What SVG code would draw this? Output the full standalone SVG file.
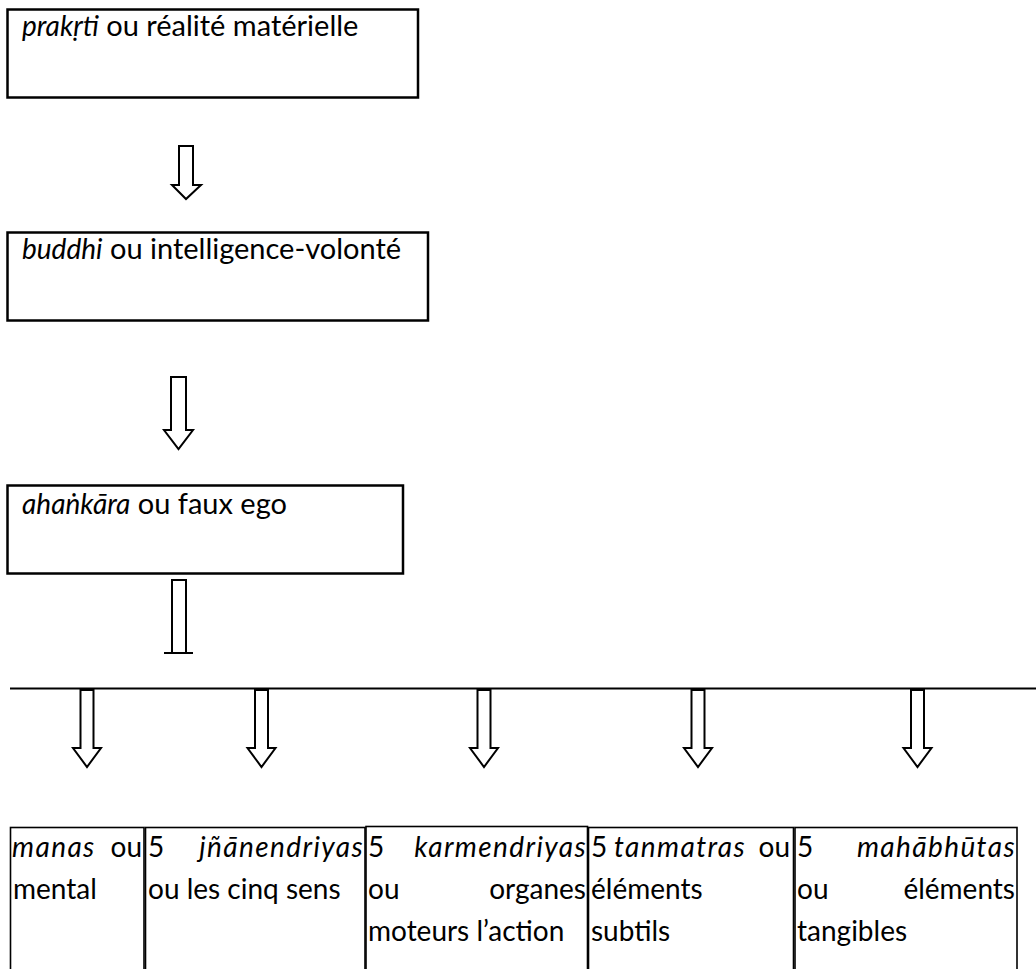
<svg xmlns="http://www.w3.org/2000/svg" width="1036" height="969" viewBox="0 0 1036 969">
<style>
  text { font-family: "Lato", "Liberation Sans", sans-serif; font-size: 28px; fill: #000; }
  .top { font-size: 29px; }
  .top .it { font-size: 28px; letter-spacing: 0; }
  .it { font-style: italic; letter-spacing: 1.4px; }
  .box { fill: #fff; stroke: #000; stroke-width: 2.5; }
  .cell { fill: #fff; stroke: #000; stroke-width: 1.6; }
  .arr { fill: #fff; stroke: #000; stroke-width: 2; stroke-linejoin: miter; }
  .ln { fill: none; stroke: #000; stroke-width: 2; }
</style>
<rect x="0" y="0" width="1036" height="969" fill="#fff"/>

<g id="node-prakrti">
  <rect class="box" x="7.5" y="9.5" width="410.5" height="88"/>
  <text class="top" x="22" y="36"><tspan class="it">prakṛti</tspan> ou réalité matérielle</text>
</g>

<g id="node-buddhi">
  <rect class="box" x="7.5" y="232.5" width="420.5" height="88"/>
  <text class="top" x="22" y="259"><tspan class="it">buddhi</tspan> ou intelligence-volonté</text>
</g>

<g id="node-ahankara">
  <rect class="box" x="7.5" y="485.5" width="395.5" height="88"/>
  <text class="top" x="22" y="514"><tspan class="it">ahaṅkāra</tspan> ou faux ego</text>
</g>

<g id="connectors">
  <path class="arr" d="M179,146 H193 V185 H201 L186,199 L172,185 H179 Z"/>
  <path class="arr" d="M171,377 H186 V430 H193 L178.5,449 L164,430 H171 Z"/>
  <path class="arr" d="M172,653 V580 H186 V653"/>
  <path class="ln" d="M164,653 H193"/>
  <path class="ln" d="M10,688.5 H1036"/>
  <path class="arr" d="M80.5,690 H93.5 V748 H101 L87,767 L73,748 H80.5 Z"/>
  <path class="arr" d="M255,690 H268 V748 H275.5 L261.5,767 L247.5,748 H255 Z"/>
  <path class="arr" d="M477.5,690 H490.5 V748 H498 L484,767 L470,748 H477.5 Z"/>
  <path class="arr" d="M691.5,690 H704.5 V748 H712 L698,767 L684,748 H691.5 Z"/>
  <path class="arr" d="M911,690 H924 V748 H931.5 L917.5,767 L903.5,748 H911 Z"/>
</g>

<g id="node-manas">
  <rect class="cell" x="10.5" y="827.5" width="133.5" height="160"/>
  <text x="12" y="857" class="it">manas</text>
  <text x="142" y="857" text-anchor="end">ou</text>
  <text x="13" y="899">mental</text>
</g>

<g id="node-jnanendriyas">
  <rect class="cell" x="145.5" y="827.5" width="219.5" height="160"/>
  <text x="148" y="857">5</text>
  <text x="364" y="857" text-anchor="end" class="it">jñānendriyas</text>
  <text x="148" y="899">ou les cinq sens</text>
</g>

<g id="node-karmendriyas">
  <rect class="cell" x="366" y="826.5" width="221.5" height="160"/>
  <text x="368" y="857">5</text>
  <text x="587" y="857" text-anchor="end" class="it">karmendriyas</text>
  <text x="368" y="899">ou</text>
  <text x="586" y="899" text-anchor="end">organes</text>
  <text x="368" y="941">moteurs l’action</text>
</g>

<g id="node-tanmatras">
  <rect class="cell" x="588.5" y="827.5" width="205" height="160"/>
  <text x="591" y="857">5</text>
  <text x="614" y="857" class="it">tanmatras</text>
  <text x="790" y="857" text-anchor="end">ou</text>
  <text x="591" y="899">éléments</text>
  <text x="591" y="941">subtils</text>
</g>

<g id="node-mahabhutas">
  <rect class="cell" x="795" y="827.5" width="222" height="160"/>
  <text x="797" y="857">5</text>
  <text x="1016" y="857" text-anchor="end" class="it">mahābhūtas</text>
  <text x="797" y="899">ou</text>
  <text x="1015" y="899" text-anchor="end">éléments</text>
  <text x="797" y="941">tangibles</text>
</g>
</svg>
